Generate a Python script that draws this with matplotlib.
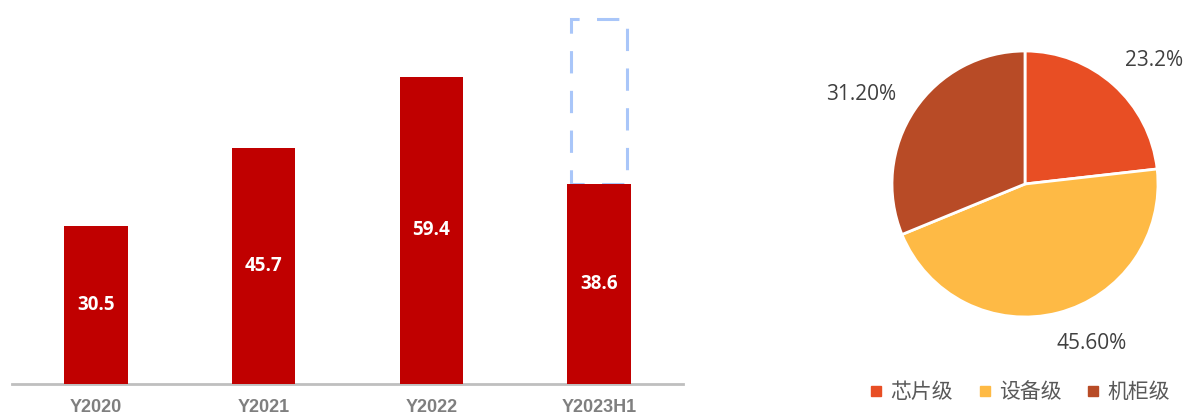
import matplotlib
matplotlib.use("Agg")
import matplotlib.pyplot as plt
from matplotlib.lines import Line2D

# ---- data ----
years = ["Y2020", "Y2021", "Y2022", "Y2023H1"]
values = [30.5, 45.7, 59.4, 38.6]
projected_full_year = 70.6  # dashed outline above the last bar

pie_labels = ["芯片级", "设备级", "机柜级"]
pie_values = [23.2, 45.6, 31.2]
pie_texts = ["23.2%", "45.60%", "31.20%"]

# ---- style ----
W, H, DPI = 1188, 419, 100
bar_color = "#C00000"
dash_color = "#A9C6F9"
pie_colors = ["#E84E24", "#FEBA45", "#B84B26"]

fig = plt.figure(figsize=(W / DPI, H / DPI), dpi=DPI)

# ---------- bar chart ----------
base_px = 384
ax = fig.add_axes([12 / W, (H - base_px) / H, (683 - 12) / W, base_px / H])
x = list(range(len(years)))
ax.bar(x, values, width=0.38, color=bar_color, zorder=3)
ax.bar(x[-1], projected_full_year - values[-1], bottom=values[-1], width=0.334,
       fill=False, edgecolor=dash_color, linewidth=2.2,
       linestyle=(3, (7.3, 5.7)), zorder=2)
for xi, v in zip(x, values):
    ax.text(xi, v / 2, f"{v}", ha="center", va="center", color="white",
            fontsize=13.5, fontweight="bold", family=["Open Sans", "DejaVu Sans"], zorder=4)
ax.set_xlim(-0.5, len(years) - 0.5)
ax.set_ylim(0, base_px / 5.17)
ax.set_xticks(x)
ax.set_xticklabels(years, fontsize=13, fontweight="bold", color="#7F7F7F",
                   family=["Liberation Sans Narrow", "Liberation Sans", "DejaVu Sans"])
ax.tick_params(axis="x", length=0, pad=11)
ax.set_yticks([])
for s in ["top", "left", "right"]:
    ax.spines[s].set_visible(False)
ax.spines["bottom"].set_color("#BFBFBF")
ax.spines["bottom"].set_linewidth(2)

# ---------- pie chart ----------
cx, cy, r = 1025, 184, 133
ax2 = fig.add_axes([(cx - r) / W, (H - cy - r) / H, 2 * r / W, 2 * r / H])
ax2.pie(pie_values, colors=pie_colors, startangle=90, counterclock=False,
        radius=1, wedgeprops=dict(edgecolor="white", linewidth=2))
ax2.set_xlim(-1, 1)
ax2.set_ylim(-1, 1)
label_pos = [(0.97, 0.93), (0.50, -1.20), (-1.23, 0.67)]
for t, (lx, ly) in zip(pie_texts, label_pos):
    ax2.text(lx, ly, t, ha="center", va="center", fontsize=15, color="#404040",
             family=["Open Sans", "DejaVu Sans"], clip_on=False)

handles = [Line2D([], [], marker="s", linestyle="none", markersize=7,
                  markerfacecolor=c, markeredgecolor=c) for c in pie_colors]
fig.legend(handles, pie_labels, loc="center", bbox_to_anchor=(1020 / W, (H - 392) / H),
           ncol=3, frameon=False, handlelength=0.6, handletextpad=0.4,
           columnspacing=1.2, prop={"family": ["Noto Sans CJK SC", "DejaVu Sans"], "size": 15},
           labelcolor="#595959")

fig.savefig("out.png", dpi=DPI)
